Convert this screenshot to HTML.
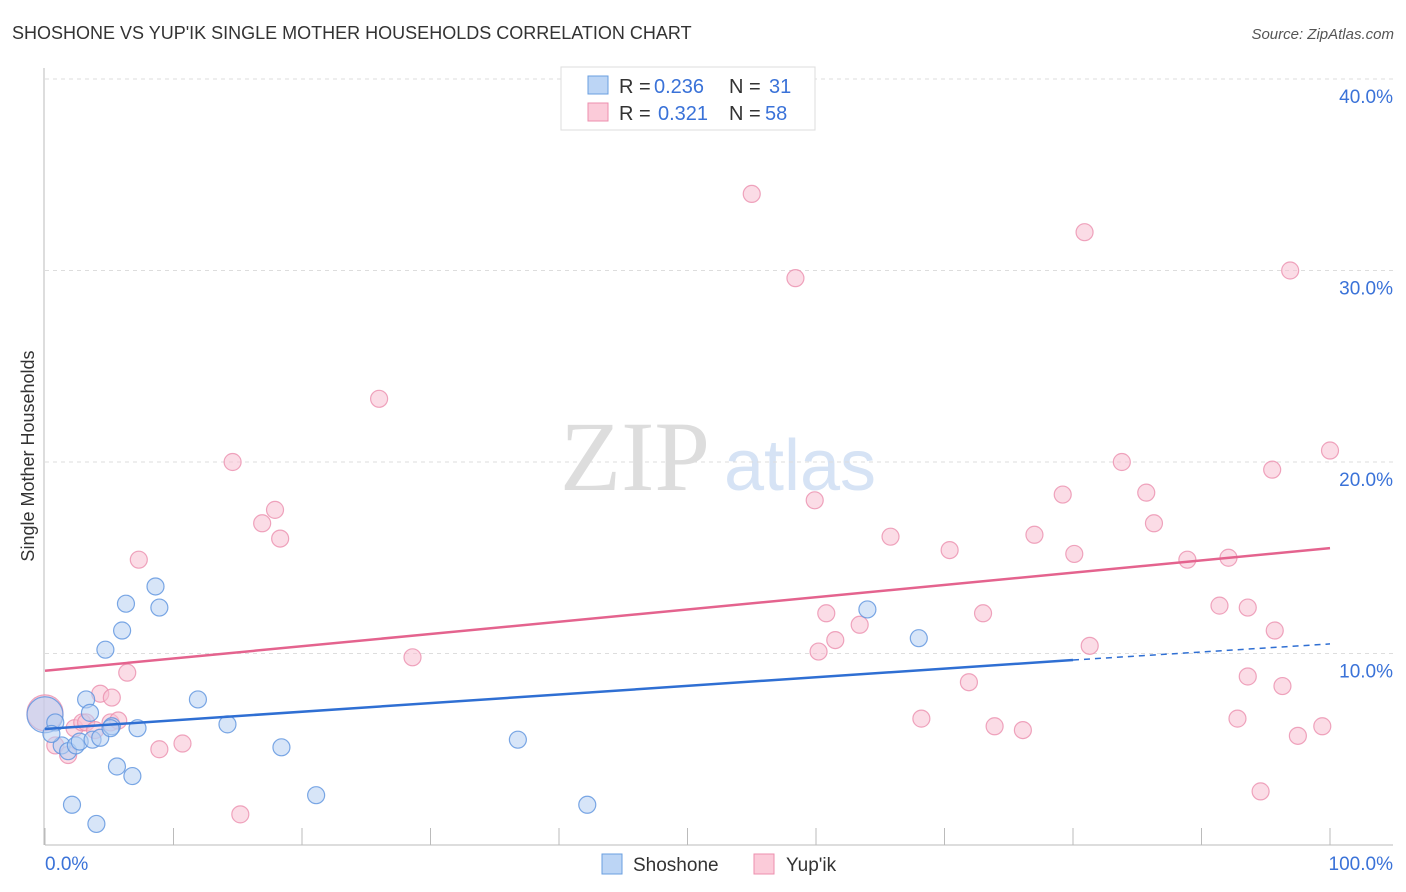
<!DOCTYPE html>
<html><head><meta charset="utf-8">
<style>
body{margin:0;background:#fff;font-family:"Liberation Sans",sans-serif;}
#wrap{position:relative;width:1406px;height:892px;overflow:hidden;}
</style></head>
<body>
<div id="wrap">
<svg id="svg" width="1406" height="892" xmlns="http://www.w3.org/2000/svg">
<text x="12" y="39" font-size="18" fill="#333">SHOSHONE VS YUP'IK SINGLE MOTHER HOUSEHOLDS CORRELATION CHART</text>
<text x="1394" y="39" font-size="15" fill="#555" font-style="italic" text-anchor="end">Source: ZipAtlas.com</text>
<text x="635" y="490" font-size="100" fill="#ddd" font-family="Liberation Serif,serif" text-anchor="middle">ZIP</text>
<text x="800" y="490" font-size="72" fill="#d6e3f5" text-anchor="middle">atlas</text>
<text transform="translate(34,456) rotate(-90)" font-size="18" fill="#333" text-anchor="middle">Single Mother Households</text>
<g id="grid"></g><g id="marks"></g>
<g>
<rect x="561" y="67" width="254" height="63" fill="#fff" stroke="#ddd"/>
<rect x="588" y="76" width="20" height="18" fill="#bcd5f5" stroke="#6a9fe0"/>
<rect x="588" y="103" width="20" height="18" fill="#fbcbd9" stroke="#ec8fae"/>
<text x="619" y="93" font-size="20" fill="#333">R =</text>
<text x="654" y="93" font-size="20" fill="#3a72d8">0.236</text>
<text x="729" y="93" font-size="20" fill="#333">N =</text>
<text x="769" y="93" font-size="20" fill="#3a72d8">31</text>
<text x="619" y="120" font-size="20" fill="#333">R =</text>
<text x="658" y="120" font-size="20" fill="#3a72d8">0.321</text>
<text x="729" y="120" font-size="20" fill="#333">N =</text>
<text x="765" y="120" font-size="20" fill="#3a72d8">58</text>
</g>
<g>
<rect x="602" y="854" width="20" height="20" fill="#bcd5f5" stroke="#6a9fe0"/>
<text x="633" y="871" font-size="19" fill="#333">Shoshone</text>
<rect x="754" y="854" width="20" height="20" fill="#fbcbd9" stroke="#ec8fae"/>
<text x="786" y="871" font-size="19" fill="#333">Yup'ik</text>
</g>
</svg>
</div>
<script>
const xTicks=[0,10,20,30,40,50,60,70,80,90,100];
const yTicks=[10,20,30,40];
const yTickLabels=["10.0%","20.0%","30.0%","40.0%"];
const shoshoneX=[0,0.8,1.3,1.8,2.4,2.7,3.7,4.3,3.2,3.5,4.7,6.0,6.3,8.6,8.9,5.2,7.2,5.6,6.8,2.1,4.0,11.9,14.2,18.4,21.1,36.8,42.2,64.0,68.0,0.5,5.1];
const shoshoneY=[6.8,6.4,5.2,4.9,5.2,5.4,5.5,5.6,7.6,6.9,10.2,11.2,12.6,13.5,12.4,6.2,6.1,4.1,3.6,2.1,1.1,7.6,6.3,5.1,2.6,5.5,2.1,12.3,10.8,5.8,6.1];
const yupikX=[0,0.8,1.8,2.3,2.9,3.2,3.9,4.3,5.2,5.1,5.7,6.4,7.3,8.9,10.7,14.6,16.9,17.9,18.3,15.2,26.0,28.6,55.0,58.4,59.9,60.2,60.8,61.5,63.4,65.8,68.2,70.4,71.9,73.0,73.9,76.1,77.0,79.2,80.1,80.9,81.3,83.8,85.7,86.3,88.9,91.4,92.1,92.8,93.6,94.6,95.5,95.7,96.3,96.9,97.5,99.4,100,93.6];
const yupikY=[6.9,5.2,4.7,6.1,6.4,6.4,6.0,7.9,7.7,6.4,6.5,9.0,14.9,5.0,5.3,20.0,16.8,17.5,16.0,1.6,23.3,9.8,34.0,29.6,18.0,10.1,12.1,10.7,11.5,16.1,6.6,15.4,8.5,12.1,6.2,6.0,16.2,18.3,15.2,32.0,10.4,20.0,18.4,16.8,14.9,12.5,15.0,6.6,12.4,2.8,19.6,11.2,8.3,30.0,5.7,6.2,20.6,8.8];
const shoshoneTrend=[[0,6.06],[80,9.66],[100,10.5]];
const yupikTrend=[[0,9.1],[100,15.5]];
const X=v=>45+v*12.85, Y=v=>845-v*19.15;
const NS="http://www.w3.org/2000/svg";
function mk(t,a,p){const e=document.createElementNS(NS,t);for(const k in a)e.setAttribute(k,a[k]);p.appendChild(e);return e;}
const grid=document.getElementById('grid'),marks=document.getElementById('marks');
yTicks.forEach((t,i)=>{
 const l=mk('line',{x1:45,x2:1393,y1:Y(t),y2:Y(t),stroke:'#ddd','stroke-dasharray':'4,4'},grid);
 
 
 const tx=mk('text',{x:1393,y:Y(t)+24,'font-size':19,fill:'#3a72d8','text-anchor':'end'},grid);
 tx.textContent=yTickLabels[i];
 
 
});
const ax=mk('line',{x1:45,x2:1393,y1:845,y2:845,stroke:'#bbb'},grid);


const ay=mk('line',{x1:44,x2:44,y1:68,y2:845,stroke:'#bbb'},grid);


xTicks.forEach(t=>{
 const l=mk('line',{x1:X(t),x2:X(t),y1:828,y2:845,stroke:'#bbb'},grid);
 
 
});
[["0.0%",45,'start'],["100.0%",1393,'end']].forEach(d=>{
 const tx=mk('text',{x:d[1],y:870,'font-size':19,fill:'#3a72d8','text-anchor':d[2]},grid);
 tx.textContent=d[0];
 
 
});
function pts(xs,ys,fill,stroke,name){
 xs.forEach((x,i)=>{
  const big=(x===0);
  const c=mk('circle',{cx:X(x),cy:Y(ys[i]),r:big?18:8.5,fill:fill,'fill-opacity':0.55,stroke:stroke,'stroke-opacity':0.8,'stroke-width':1.2},marks);
  
  
 });
}
pts(yupikX,yupikY,'#f8c0d2','#eb8fae','yupik-point');
pts(shoshoneX,shoshoneY,'#b7d0f3','#5b92de','shoshone-point');
const pl=mk('line',{x1:X(yupikTrend[0][0]),y1:Y(yupikTrend[0][1]),x2:X(yupikTrend[1][0]),y2:Y(yupikTrend[1][1]),stroke:'#e4638e','stroke-width':2.5},marks);


const bl=mk('line',{x1:X(shoshoneTrend[0][0]),y1:Y(shoshoneTrend[0][1]),x2:X(shoshoneTrend[1][0]),y2:Y(shoshoneTrend[1][1]),stroke:'#2f6fd3','stroke-width':2.5},marks);


const bd=mk('line',{x1:X(shoshoneTrend[1][0]),y1:Y(shoshoneTrend[1][1]),x2:X(shoshoneTrend[2][0]),y2:Y(shoshoneTrend[2][1]),stroke:'#2f6fd3','stroke-width':1.5,'stroke-dasharray':'6,5'},marks);


</script>
</body></html>
